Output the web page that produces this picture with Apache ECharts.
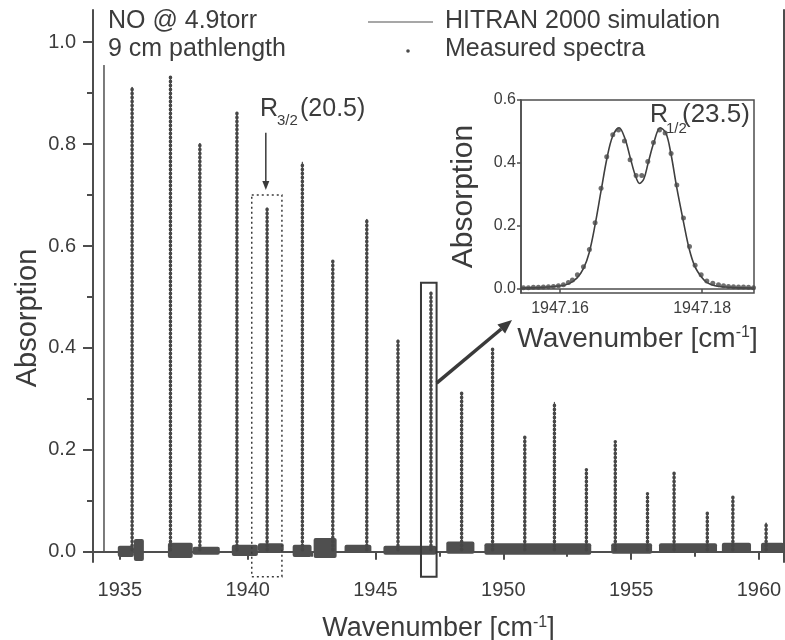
<!DOCTYPE html>
<html><head><meta charset="utf-8">
<script src="https://cdn.jsdelivr.net/npm/echarts@6/dist/echarts.min.js"></script>
<style>html,body{margin:0;padding:0;background:#fff}#c{width:785px;height:640px}</style>
</head><body><div id="c"></div>
<script>
const FONT = '"Liberation Sans", Arial, Helvetica, sans-serif';
const INK = '#3c3c3c';
const AX = '#4d4d4d';

// ---- main axes ticks ----
const xTicks = [1935, 1940, 1945, 1950, 1955, 1960];
const xMinorTicks = [1937.5, 1942.5, 1947.5, 1952.5, 1957.5];
const yTicks = [0, 0.2, 0.4, 0.6, 0.8, 1.0];
const yMinorTicks = [0.1, 0.3, 0.5, 0.7, 0.9];

// ---- HITRAN 2000 simulation: line centres and peak absorption ----
const simX = [1934.38, 1935.48, 1936.98, 1938.13, 1939.58, 1940.76, 1942.14, 1943.33, 1944.66, 1945.88, 1947.17,
              1948.37, 1949.58, 1950.84, 1952.00, 1953.25, 1954.38, 1955.64, 1956.68, 1957.98, 1958.98, 1960.28];
const simY = [0.955, 0.912, 0.931, 0.802, 0.863, 0.675, 0.765, 0.571, 0.653, 0.416, 0.510,
              0.312, 0.398, 0.227, 0.294, 0.161, 0.216, 0.114, 0.155, 0.076, 0.108, 0.057];

// ---- Measured spectra: peaks ----
const measX = [1935.48, 1936.98, 1938.13, 1939.58, 1940.76, 1942.14, 1943.33, 1944.66, 1945.88, 1947.17,
               1948.37, 1949.58, 1950.84, 1952.00, 1953.25, 1954.38, 1955.64, 1956.68, 1957.98, 1958.98, 1960.28];
const measY = [0.912, 0.931, 0.802, 0.863, 0.675, 0.765, 0.571, 0.653, 0.416, 0.510,
               0.312, 0.398, 0.227, 0.294, 0.161, 0.216, 0.114, 0.155, 0.076, 0.108, 0.057];

// ---- Measured spectra: scanned segments (baseline noise band) ----
const segStart = [1934.92, 1935.55, 1936.88, 1937.85, 1939.38, 1940.40, 1941.76, 1942.58, 1943.79, 1945.31, 1947.77, 1949.26, 1954.22, 1956.09, 1958.55, 1960.08];
const segEnd   = [1935.55, 1935.94, 1937.85, 1938.91, 1940.40, 1941.41, 1942.50, 1943.48, 1944.84, 1947.38, 1948.87, 1953.44, 1955.82, 1958.36, 1959.69, 1960.98];
const segLo    = [-0.010, -0.018, -0.012, -0.006, -0.008, 0.000, -0.010, -0.012, -0.002, -0.006, -0.004, -0.006, -0.004, -0.001, -0.002, -0.002];
const segHi    = [ 0.012,  0.025,  0.018,  0.010,  0.014, 0.017,  0.014,  0.027,  0.014,  0.012,  0.020,  0.017,  0.017,  0.017,  0.018,  0.018];

// ---- inset: R1/2(23.5) ----
const insetTicksX = [1947.16, 1947.18];
const insetTicksY = [0, 0.2, 0.4, 0.6];
const insetSimX = [1947.1545, 1947.1575, 1947.1598, 1947.1612, 1947.1624, 1947.1633, 1947.1641, 1947.1649, 1947.1658,
                   1947.1666, 1947.1674, 1947.1683, 1947.1691, 1947.1699, 1947.1706, 1947.1712, 1947.1718, 1947.1724,
                   1947.1732, 1947.1741, 1947.1749, 1947.1756, 1947.1764, 1947.1774, 1947.1782, 1947.1790, 1947.1799,
                   1947.1807, 1947.1818, 1947.1840, 1947.1873];
const insetSimY = [0.003, 0.005, 0.009, 0.016, 0.035, 0.065, 0.115, 0.200, 0.315,
                   0.415, 0.485, 0.512, 0.480, 0.415, 0.360, 0.335, 0.350, 0.400,
                   0.465, 0.512, 0.495, 0.430, 0.325, 0.210, 0.125, 0.070, 0.038,
                   0.020, 0.010, 0.005, 0.003];
const insetMeasX = [1947.15484, 1947.15554, 1947.15624, 1947.15695, 1947.15765, 1947.15836, 1947.15906, 1947.15977,
                    1947.16047, 1947.16117, 1947.16174, 1947.16244, 1947.16329, 1947.16413, 1947.16493, 1947.16577,
                    1947.16657, 1947.16742, 1947.16822, 1947.16906, 1947.16986, 1947.17070, 1947.17150, 1947.17235,
                    1947.17315, 1947.17399, 1947.17479, 1947.17563, 1947.17643, 1947.17737, 1947.17822, 1947.17901,
                    1947.17986, 1947.18066, 1947.18150, 1947.18230, 1947.18301, 1947.18371, 1947.18441, 1947.18512,
                    1947.18582, 1947.18653, 1947.18723];
const insetMeasY = [0.004, 0.004, 0.005, 0.005, 0.006, 0.007, 0.008, 0.010,
                    0.013, 0.020, 0.028, 0.045, 0.070, 0.125, 0.210, 0.320,
                    0.420, 0.490, 0.505, 0.470, 0.410, 0.360, 0.360, 0.405,
                    0.465, 0.505, 0.495, 0.430, 0.330, 0.225, 0.135, 0.075,
                    0.045, 0.025, 0.018, 0.013, 0.010, 0.008, 0.007, 0.006,
                    0.006, 0.005, 0.004];

// ---- build series data ----
const X0 = 1933.95, X1 = 1960.98;
const simData = [[X0, 0]];
simX.forEach((x, i) => { simData.push([x, 0], [x, simY[i]], [x, 0]); });
simData.push([X1, 0]);

const measData = [];
measX.forEach((x, i) => { measData.push([x, 0.004], [x, measY[i]], [x, '-']); });

const bandData = segStart.map((s, i) => [s, segEnd[i], segLo[i], segHi[i]]);
const insetSimData = insetSimX.map((x, i) => [x, insetSimY[i]]);
const insetMeasData = insetMeasX.map((x, i) => [x, insetMeasY[i]]);

const chart = echarts.init(document.getElementById('c'), null, { renderer: 'canvas' });

const baseText = { fontFamily: FONT, color: INK };

chart.setOption({
  animation: false,
  backgroundColor: '#fff',
  textStyle: { fontFamily: FONT },
  grid: [
    { left: 93, top: 10, width: 691, height: 552, show: false, containLabel: false, outerBoundsMode: 'none' },
    { left: 521, top: 100, width: 233, height: 193, show: true, backgroundColor: '#fff', borderColor: AX, borderWidth: 1.5, z: 5,
      containLabel: false, outerBoundsMode: 'none' }
  ],
  xAxis: [
    { gridIndex: 0, type: 'value', min: X0, max: X1, position: 'bottom',
      axisLine: { lineStyle: { color: AX, width: 2 } },
      axisTick: { customValues: xTicks, length: 8, lineStyle: { color: AX, width: 2 } },
      axisLabel: { customValues: xTicks, fontSize: 20, margin: 18, formatter: v => String(v), ...baseText },
      splitLine: { show: false },
      name: 'Wavenumber [cm{sup|-1}]', nameLocation: 'middle', nameGap: 53,
      nameTextStyle: { ...baseText, fontSize: 27, lineHeight: 27,
        rich: { sup: { fontFamily: FONT, color: INK, fontSize: 16, lineHeight: 16, verticalAlign: 'top', padding: [0, 0, 20, 0] } } } },
    { gridIndex: 0, type: 'value', min: X0, max: X1, position: 'bottom',
      axisLine: { show: false },
      axisTick: { customValues: xMinorTicks, length: 5, lineStyle: { color: AX, width: 2 } },
      axisLabel: { show: false }, splitLine: { show: false } },
    { gridIndex: 1, type: 'value', min: 1947.1545, max: 1947.1873, position: 'bottom', z: 6,
      axisLine: { lineStyle: { color: AX, width: 1.5 } },
      axisTick: { customValues: insetTicksX, length: 4, lineStyle: { color: AX, width: 1.5 } },
      axisLabel: { customValues: insetTicksX, fontSize: 16, margin: 8, formatter: v => v.toFixed(2), ...baseText },
      splitLine: { show: false },
      name: 'Wavenumber [cm{sup|-1}]', nameLocation: 'middle', nameGap: 32,
      nameTextStyle: { ...baseText, fontSize: 28, lineHeight: 28,
        rich: { sup: { fontFamily: FONT, color: INK, fontSize: 16, lineHeight: 16, verticalAlign: 'top' } } } }
  ],
  yAxis: [
    { gridIndex: 0, type: 'value', min: -0.02, max: 1.063, position: 'left',
      axisLine: { lineStyle: { color: AX, width: 2 } },
      axisTick: { customValues: yTicks, length: 10, lineStyle: { color: AX, width: 2 } },
      axisLabel: { customValues: yTicks, fontSize: 20, margin: 17, formatter: v => v.toFixed(1), ...baseText },
      splitLine: { show: false } },
    { gridIndex: 0, type: 'value', min: -0.02, max: 1.063, position: 'left',
      axisLine: { show: false },
      axisTick: { customValues: yMinorTicks, length: 6, lineStyle: { color: AX, width: 2 } },
      axisLabel: { show: false }, splitLine: { show: false } },
    { gridIndex: 0, type: 'value', min: -0.02, max: 1.063, position: 'right',
      axisLine: { show: true, lineStyle: { color: AX, width: 2 } },
      axisTick: { show: false }, axisLabel: { show: false }, splitLine: { show: false } },
    { gridIndex: 1, type: 'value', min: -0.013, max: 0.6, position: 'left', z: 6,
      axisLine: { lineStyle: { color: AX, width: 1.5 } },
      axisTick: { customValues: insetTicksY, length: 4, lineStyle: { color: AX, width: 1.5 } },
      axisLabel: { customValues: insetTicksY, fontSize: 16, margin: 5, formatter: v => v.toFixed(1), ...baseText },
      splitLine: { show: false },
      name: 'Absorption', nameLocation: 'middle', nameGap: 42, nameRotate: 90,
      nameTextStyle: { ...baseText, fontSize: 30 } }
  ],
  series: [
    { name: 'HITRAN 2000 simulation', type: 'line', xAxisIndex: 0, yAxisIndex: 0, data: simData,
      symbol: 'none', color: '#505050', lineStyle: { color: '#505050', width: 1 }, z: 2, silent: true },
    { name: 'Measured spectra', type: 'line', xAxisIndex: 0, yAxisIndex: 0, data: measData,
      symbol: 'none', connectNulls: false, color: '#4a4a4a',
      lineStyle: { color: '#474747', width: 3.5, type: [0.5, 3.5], cap: 'round' }, z: 3, silent: true },
    { name: 'Measured spectra', type: 'custom', xAxisIndex: 0, yAxisIndex: 0, data: bandData,
      encode: { x: [0, 1], y: [2, 3] }, color: '#4a4a4a', z: 3, silent: true,
      renderItem: (params, api) => {
        const p1 = api.coord([api.value(0), api.value(3)]);
        const p2 = api.coord([api.value(1), api.value(2)]);
        return { type: 'rect', shape: { x: p1[0], y: p1[1], width: p2[0] - p1[0], height: p2[1] - p1[1], r: 2 },
                 style: { fill: '#4f4f4f' } };
      } },
    { name: 'HITRAN 2000 simulation', type: 'line', xAxisIndex: 2, yAxisIndex: 3, data: insetSimData,
      symbol: 'none', smooth: 0.35, color: '#505050', lineStyle: { color: '#3f3f3f', width: 1.6 }, z: 7, silent: true },
    { name: 'Measured spectra', type: 'scatter', xAxisIndex: 2, yAxisIndex: 3, data: insetMeasData,
      symbol: 'circle', symbolSize: 5, color: '#4a4a4a', itemStyle: { color: '#4a4a4a' }, z: 8, silent: true }
  ]
});

// ---- annotations anchored in data coordinates ----
const dottedBox = [1940.16, 1941.34, -0.049, 0.700];
const solidBox = [1946.78, 1947.39, -0.049, 0.528];
const r32Arrow = [1940.71, 0.822, 0.710];
const px = (x, y) => chart.convertToPixel({ xAxisIndex: 0, yAxisIndex: 0 }, [x, y]);

function arrowHead(tx, ty, fx, fy, len, half) {
  const dx = tx - fx, dy = ty - fy, L = Math.hypot(dx, dy);
  const ux = dx / L, uy = dy / L, nx = -uy, ny = ux;
  const bx = tx - ux * len, by = ty - uy * len;
  return [[tx, ty], [bx + nx * half, by + ny * half], [bx - nx * half, by - ny * half]];
}

const g = [];
{
  const a = px(dottedBox[0], dottedBox[3]), b = px(dottedBox[1], dottedBox[2]);
  g.push({ type: 'rect', shape: { x: a[0], y: a[1], width: b[0] - a[0], height: b[1] - a[1] },
           style: { fill: null, stroke: '#3a3a3a', lineWidth: 1.5, lineDash: [2, 3] }, z: 10 });
}
{
  const a = px(solidBox[0], solidBox[3]), b = px(solidBox[1], solidBox[2]);
  g.push({ type: 'rect', shape: { x: a[0], y: a[1], width: b[0] - a[0], height: b[1] - a[1] },
           style: { fill: null, stroke: '#3a3a3a', lineWidth: 2 }, z: 10 });
  const from = px(solidBox[1], 0.331);
  const tip = [512, 320];
  const head = arrowHead(tip[0], tip[1], from[0], from[1], 14, 6);
  const base = [(head[1][0] + head[2][0]) / 2, (head[1][1] + head[2][1]) / 2];
  g.push({ type: 'line', shape: { x1: from[0], y1: from[1], x2: base[0], y2: base[1] },
           style: { stroke: '#3a3a3a', lineWidth: 3.5 }, z: 10 });
  g.push({ type: 'polygon', shape: { points: head }, style: { fill: '#3a3a3a' }, z: 10 });
}
{
  const t = px(r32Arrow[0], r32Arrow[1]), h = px(r32Arrow[0], r32Arrow[2]);
  const head = arrowHead(h[0], h[1], t[0], t[1], 9, 3.5);
  g.push({ type: 'line', shape: { x1: t[0], y1: t[1], x2: h[0], y2: h[1] - 8 },
           style: { stroke: '#3a3a3a', lineWidth: 1.5 }, z: 10 });
  g.push({ type: 'polygon', shape: { points: head }, style: { fill: '#3a3a3a' }, z: 10 });
}
const txt = (text, left, top, size) => ({ type: 'text', left, top, z: 12,
  style: { text, fontFamily: FONT, fontSize: size, fill: INK } });
g.push(txt('NO @ 4.9torr', 108, 9, 25));
g.push(txt('9 cm pathlength', 108, 37, 25));
g.push(txt('R', 260, 97, 25), txt('3/2', 277, 113, 15), txt('(20.5)', 300, 97, 25));
g.push(txt('R', 650, 103, 25), txt('1/2', 666, 121, 15), txt('(23.5)', 682, 102, 26));
// main y-axis title
g.push({ type: 'text', x: 28, y: 318, rotation: Math.PI / 2, z: 12,
  style: { text: 'Absorption', fontFamily: FONT, fontSize: 29, fill: INK, align: 'center', verticalAlign: 'middle' } });
// legend
g.push({ type: 'line', shape: { x1: 368, y1: 22, x2: 433, y2: 22 }, style: { stroke: '#505050', lineWidth: 1.2 }, z: 12 });
g.push({ type: 'circle', shape: { cx: 408, cy: 51, r: 1.8 }, style: { fill: '#4a4a4a' }, z: 12 });
g.push(txt('HITRAN 2000 simulation', 445, 9, 25));
g.push(txt('Measured spectra', 445, 37, 25));

chart.setOption({ graphic: g });
</script>
</body></html>
